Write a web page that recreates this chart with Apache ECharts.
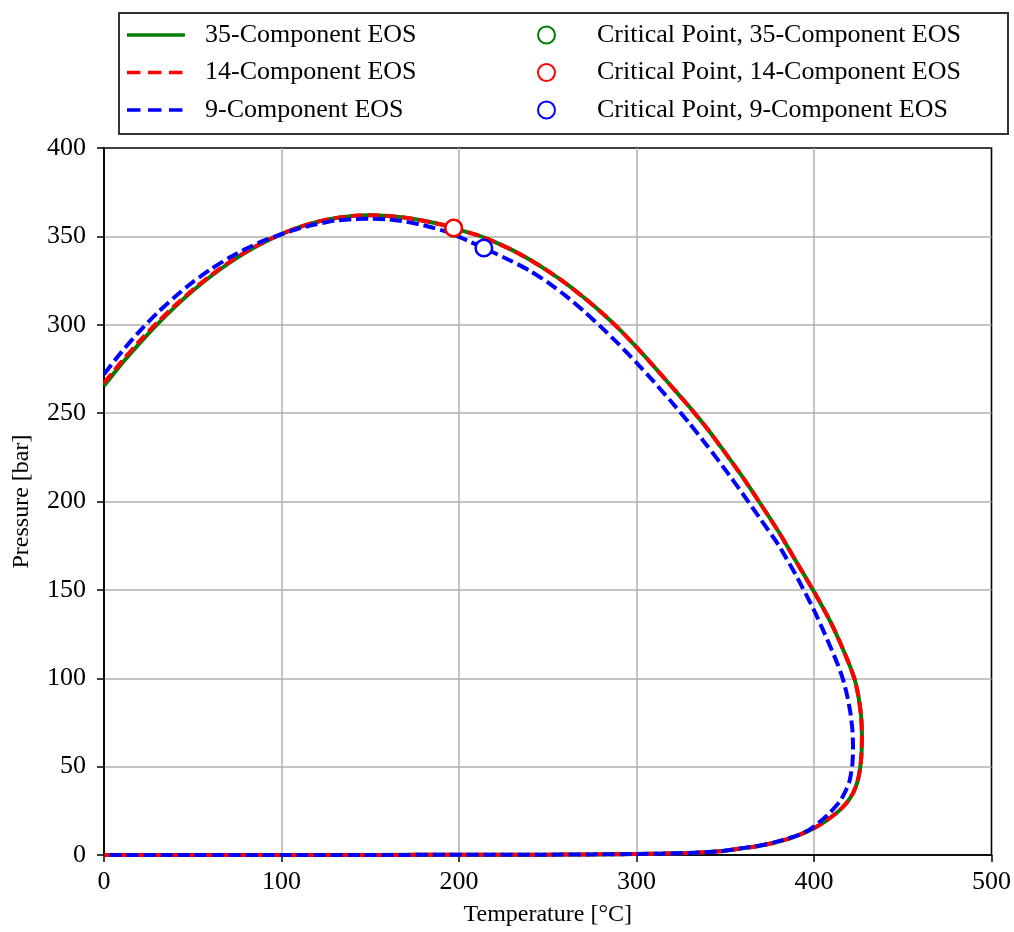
<!DOCTYPE html>
<html>
<head>
<meta charset="utf-8">
<script src="https://cdn.jsdelivr.net/npm/echarts@6/dist/echarts.min.js"></script>
<style>
html,body{margin:0;padding:0;background:#fff;}
#chart{width:1014px;height:932px;}
</style>
</head>
<body>
<div id="chart"></div>
<script>
// ---- Data (Temperature [°C], Pressure [bar]) ----
const eos35 = [[0,265.5],[10,278],[20,289.5],[30,300.2],[40,310.1],[50,319.2],[60,327.3],[70,334.6],[80,341],[90,346.6],[100,351.3],[110,355.2],[120,358.2],[130,360.3],[140,361.6],[150,362],[160,361.6],[170,360.5],[180,358.8],[190,356.7],[197,354.6],[210,350.8],[220,346.9],[230,342.2],[240,336.8],[250,330.5],[260,323.5],[270,315.7],[280,307.2],[290,297.8],[300,287.3],[310,276.2],[320,264.8],[330,253.3],[340,241],[350,227.5],[360,213.5],[369,200],[380,183],[390,166],[400,149],[405,140],[410,130.5],[415,119.5],[420,107.5],[423,99],[425,90],[426.5,79],[427,68],[426.8,58],[426,49],[424.5,41.5],[422,35],[418,29],[413,24],[407,19.5],[400,15.2],[392,11.5],[385,9],[377,6.8],[368,5],[360,3.9],[347,2.1],[330,1.2],[315,0.8],[300,0.55],[275,0.35],[250,0.2],[200,0.1],[150,0.05],[100,0.02],[50,0.01],[0,0]];
const eos14 = [[0,267],[10,279.3],[20,290.7],[30,301.2],[40,310.9],[50,319.8],[60,327.8],[70,335],[80,341.3],[90,346.8],[100,351.4],[110,355.2],[120,358.2],[130,360.3],[140,361.6],[150,362],[160,361.6],[170,360.5],[180,358.8],[190,356.7],[197,354.7],[210,350.8],[220,346.9],[230,342.2],[240,336.8],[250,330.5],[260,323.5],[270,315.7],[280,307.2],[290,297.8],[300,287.3],[310,276.2],[320,264.8],[330,253.3],[340,241],[350,227.5],[360,213.5],[369,200],[380,183],[390,166],[400,149],[405,140],[410,130.5],[415,119.5],[420,107.5],[423,99],[425,90],[426.5,79],[427,68],[426.8,58],[426,49],[424.5,41.5],[422,35],[418,29],[413,24],[407,19.5],[400,15.2],[392,11.5],[385,9],[377,6.8],[368,5],[360,3.9],[347,2.1],[330,1.2],[315,0.8],[300,0.55],[275,0.35],[250,0.2],[200,0.1],[150,0.05],[100,0.02],[50,0.01],[0,0]];
const eos9 = [[0,272],[10,284.8],[20,296.3],[30,306.7],[40,315.9],[50,324.1],[60,331.3],[70,337.6],[80,343],[90,347.6],[100,351.2],[110,354.5],[120,357],[130,358.8],[140,359.8],[150,360],[160,359.6],[170,358.3],[180,356.3],[190,353.5],[197,351],[205,347.5],[214,343.4],[230,335.8],[240,330.5],[250,324],[260,316.5],[270,308],[280,298.8],[290,289],[300,278.5],[310,267.5],[320,256],[330,244],[340,231.3],[350,218],[360,204.2],[370,189.8],[380,175.4],[390,158],[400,138.5],[405,127.5],[410,116],[413.5,107.5],[416.3,99.5],[418.5,91],[420.5,80.5],[421.7,70],[422,60],[421.5,50],[419.8,41],[417.2,35],[414.4,30],[409,24],[403,18.5],[397,14],[390,10.8],[383,8.7],[377,7.0],[368,5.1],[360,3.9],[347,2.1],[330,1.2],[315,0.8],[300,0.55],[275,0.35],[250,0.2],[200,0.1],[150,0.05],[100,0.02],[50,0.01],[0,0]];
const crit35 = [[197,354.6]];
const crit14 = [[197,354.7]];
const crit9 = [[214,343.4]];

const lineNames = ['35-Component EOS','14-Component EOS','9-Component EOS'];
const critNames = ['Critical Point, 35-Component EOS','Critical Point, 14-Component EOS','Critical Point, 9-Component EOS'];
const colors = ['#008000','#ff0000','#0000ff'];
const xTicks = {min:0, max:500, interval:100};
const yTicks = {min:0, max:400, interval:50};

const FONT = 'Liberation Serif, Times New Roman, serif';
const chart = echarts.init(document.getElementById('chart'), null, {renderer:'canvas'});

// legend glyphs: a solid and a dashed line, bounding box 58 x 14
const BOX = 'M0,0h0.01v0.01h-0.01z M57.99,14h0.01v0.01h-0.01z ';
const solidIcon = 'path://' + BOX + 'M0,5.2H58V8.8H0Z';
const dashIcon = 'path://' + BOX + 'M0,5.2h13.5v3.6h-13.5z M21,5.2h13.5v3.6h-13.5z M42,5.2h13.5v3.6h-13.5z';

function lineSeries(name, data, color, dashed){
  return {
    name, type:'line', data, symbol:'none', showSymbol:false, smooth:0.2,
    animation:false, clip:true,
    lineStyle:{color, width:4, type: dashed ? [12,5] : 'solid'},
    itemStyle:{color}
  };
}
function critSeries(name, data, color){
  return {
    name, type:'scatter', data, symbol:'circle', symbolSize:16.5, animation:false,
    itemStyle:{color:'#ffffff', borderColor:color, borderWidth:2.5, opacity:1},
    z:5
  };
}

const option = {
  backgroundColor:'#ffffff',
  animation:false,
  graphic:[{
    type:'rect', left:118, top:12, z:-1,
    shape:{width:889, height:121},
    style:{fill:'#ffffff', stroke:'#333333', lineWidth:2}
  }],
  legend:[{
    data:[
      {name:lineNames[0], icon:solidIcon},
      {name:lineNames[1], icon:dashIcon},
      {name:lineNames[2], icon:dashIcon}
    ],
    orient:'vertical', left:127, top:20, padding:0,
    itemWidth:58, itemHeight:14, itemGap:7.5,
    itemStyle:{borderWidth:0},
    textStyle:{fontFamily:FONT, fontSize:26, color:'#000', lineHeight:30, padding:[0,0,0,15]},
    selectedMode:false
  },{
    data:critNames, orient:'vertical', left:537, top:20, padding:0,
    itemWidth:17, itemHeight:17, itemGap:7.5,
    textStyle:{fontFamily:FONT, fontSize:26, color:'#000', lineHeight:30, padding:[0,0,0,37]},
    selectedMode:false
  }],
  grid:{left:104, right:22, top:148, bottom:75, show:true, borderColor:'#000', borderWidth:1.6, backgroundColor:'transparent'},
  xAxis:{
    type:'value', min:xTicks.min, max:xTicks.max, interval:xTicks.interval,
    name:'Temperature [°C]', nameLocation:'middle', nameGap:48,
    nameTextStyle:{fontFamily:FONT, fontSize:24, color:'#000'},
    axisLine:{show:true, onZero:false, lineStyle:{color:'#000', width:1.6}},
    axisTick:{show:true, length:7, lineStyle:{color:'#000', width:1.5}},
    axisLabel:{fontFamily:FONT, fontSize:26, color:'#000', margin:14},
    splitLine:{show:true, showMinLine:false, showMaxLine:false, lineStyle:{color:'#b0b0b0', width:1.5}}
  },
  yAxis:{
    type:'value', min:yTicks.min, max:yTicks.max, interval:yTicks.interval,
    name:'Pressure [bar]', nameLocation:'middle', nameGap:70, nameRotate:90,
    nameTextStyle:{fontFamily:FONT, fontSize:24, color:'#000'},
    axisLine:{show:true, onZero:false, lineStyle:{color:'#000', width:1.6}},
    axisTick:{show:true, length:7, lineStyle:{color:'#000', width:1.5}},
    axisLabel:{fontFamily:FONT, fontSize:26, color:'#000', margin:18},
    splitLine:{show:true, showMinLine:false, showMaxLine:false, lineStyle:{color:'#b0b0b0', width:1.5}}
  },
  series:[
    lineSeries(lineNames[0], eos35, colors[0], false),
    lineSeries(lineNames[1], eos14, colors[1], true),
    lineSeries(lineNames[2], eos9, colors[2], true),
    critSeries(critNames[0], crit35, colors[0]),
    critSeries(critNames[1], crit14, colors[1]),
    critSeries(critNames[2], crit9, colors[2])
  ]
};
chart.setOption(option);
</script>
</body>
</html>
